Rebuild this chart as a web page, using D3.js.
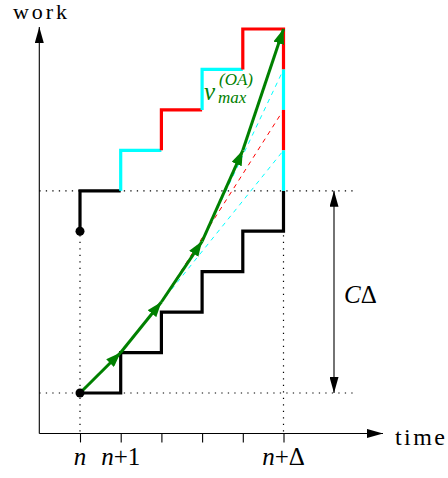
<!DOCTYPE html>
<html><head><meta charset="utf-8">
<script src="https://cdn.jsdelivr.net/npm/d3@7"></script>
<style>body{margin:0;background:#fff}svg{display:block}</style>
</head><body>
<svg id="c" width="448" height="478"></svg>
<script>
// ---- data ----
const timeTicks = [0, 1, 2, 3, 4, 5];
const tickLabelAt = [0, 1, 5];
const tickLabelRest = ["", "+1", "+\u0394"];
const lowerX = [0, 1, 1, 2, 2, 3, 3, 4, 4, 5, 5];
const lowerY = [0, 0, 1, 1, 2, 2, 3, 3, 4, 4, 5];
const upperX = [0, 0, 1];
const upperY = [4, 5, 5];
const segColors = ["#00ffff", "#ff0000", "#00ffff", "#ff0000", "#00ffff", "#ff0000", "#00ffff"];
const segX = [[1, 1, 2], [2, 2, 3], [3, 3, 4], [4, 4, 5, 5], [5, 5], [5, 5], [5, 5]];
const segY = [[5, 6, 6], [6, 7, 7], [7, 8, 8], [8, 9, 9, 8], [8, 7], [7, 6], [6, 5]];
const greenX = [0, 1, 2, 3, 4, 5];
const greenY = [0, 1, 2.25, 3.75, 6, 9];
const dashFromX = [2, 1, 3], dashFromY = [2.25, 1, 3.75];
const dashToX = [5, 5, 5], dashToY = [7, 6, 8];
const dashColors = ["#ff0000", "#00ffff", "#00ffff"];
const pointX = [0, 0], pointY = [0, 4];
const levelLow = 0, levelHigh = 5;

// ---- drawing ----
const svg = d3.select("#c");
const x = d3.scaleLinear().domain([0, 5]).range([80, 283.5]);
const y = d3.scaleLinear().domain([0, 9]).range([393, 29]);
const zip = (a, b) => a.map((v, i) => [v, b[i]]);
const line = d3.line().x(d => x(d[0])).y(d => y(d[1]));
const serif = "Liberation Serif, Times New Roman, serif";

const defs = svg.append("defs");
function marker(id, color, len, half) {
  defs.append("marker").attr("id", id).attr("viewBox", `${-len} ${-half} ${len} ${2 * half}`)
    .attr("refX", 0).attr("refY", 0).attr("markerUnits", "userSpaceOnUse")
    .attr("markerWidth", len).attr("markerHeight", 2 * half).attr("orient", "auto-start-reverse")
    .append("path").attr("d", `M${-len},${-half} L0,0 L${-len},${half} Z`).attr("fill", color);
}
marker("ax", "#000", 16, 4.5);
marker("gr", "#008000", 15, 5.5);

const axY = y(-1), axX = x(-1);
// dotted guides
const dotted = svg.append("g").attr("stroke", "#000").attr("stroke-width", 1.2)
  .attr("stroke-dasharray", "1.3,5.2").attr("fill", "none");
[levelLow, levelHigh].forEach(l => dotted.append("line")
  .attr("x1", axX).attr("x2", x(6.75)).attr("y1", y(l)).attr("y2", y(l)));
[0, 5].forEach(t => dotted.append("line")
  .attr("x1", x(t)).attr("x2", x(t)).attr("y1", y(4) + 4).attr("y2", axY));

// axes
svg.append("line").attr("x1", axX).attr("y1", axY).attr("x2", 383).attr("y2", axY)
  .attr("stroke", "#000").attr("stroke-width", 1.1).attr("marker-end", "url(#ax)");
svg.append("line").attr("x1", axX).attr("y1", axY).attr("x2", axX).attr("y2", 27)
  .attr("stroke", "#000").attr("stroke-width", 1.1).attr("marker-end", "url(#ax)");
const xAxis = d3.axisBottom(x).tickValues(timeTicks).tickSize(9).tickFormat("");
const gx = svg.append("g").attr("transform", `translate(0,${axY})`).call(xAxis);
gx.select(".domain").remove();
gx.selectAll(".tick line").attr("stroke", "#000").attr("stroke-width", 1.1);

// tick labels
tickLabelAt.forEach((t, i) => {
  const tx = svg.append("text").attr("x", x(t)).attr("y", 465).attr("text-anchor", "middle")
    .attr("font-family", serif).attr("font-size", 25).attr("fill", "#000");
  tx.append("tspan").attr("font-style", "italic").text("n");
  if (tickLabelRest[i]) tx.append("tspan").text(tickLabelRest[i]);
});

// dashed lines
dashColors.forEach((c, i) => svg.append("line")
  .attr("x1", x(dashFromX[i])).attr("y1", y(dashFromY[i]))
  .attr("x2", x(dashToX[i])).attr("y2", y(dashToY[i]))
  .attr("stroke", c).attr("stroke-width", 1).attr("stroke-dasharray", "4.5,4.5"));

// staircases
svg.append("path").attr("d", line(zip(lowerX, lowerY))).attr("fill", "none")
  .attr("stroke", "#000").attr("stroke-width", 3.2);
svg.append("path").attr("d", line(zip(upperX, upperY))).attr("fill", "none")
  .attr("stroke", "#000").attr("stroke-width", 3.2);
segColors.forEach((c, i) => svg.append("path").attr("d", line(zip(segX[i], segY[i])))
  .attr("fill", "none").attr("stroke", c).attr("stroke-width", 3.2));

// green path with arrowheads
const gpts = zip(greenX, greenY);
for (let i = 1; i < gpts.length; i++) {
  svg.append("line").attr("x1", x(gpts[i - 1][0])).attr("y1", y(gpts[i - 1][1]))
    .attr("x2", x(gpts[i][0])).attr("y2", y(gpts[i][1]))
    .attr("stroke", "#008000").attr("stroke-width", 3).attr("marker-end", "url(#gr)");
}

// points
pointX.forEach((px, i) => svg.append("circle").attr("cx", x(px)).attr("cy", y(pointY[i]))
  .attr("r", 4.5).attr("fill", "#000"));

// C Delta double arrow
svg.append("line").attr("x1", 334).attr("x2", 334).attr("y1", y(levelHigh)).attr("y2", y(levelLow))
  .attr("stroke", "#000").attr("stroke-width", 1.1)
  .attr("marker-start", "url(#ax)").attr("marker-end", "url(#ax)");
const cd = svg.append("text").attr("x", 344).attr("y", 303).attr("font-family", serif)
  .attr("font-size", 25).attr("fill", "#000");
cd.append("tspan").attr("font-style", "italic").text("C");
cd.append("tspan").text("\u0394");

// axis titles
svg.append("text").attr("x", 13).attr("y", 19).attr("font-family", serif).attr("font-size", 22)
  .attr("textLength", 54).text("work");
svg.append("text").attr("x", 395).attr("y", 445).attr("font-family", serif).attr("font-size", 24)
  .attr("textLength", 50).text("time");

// v_max^(OA) as a single text element
const vl = svg.append("text").attr("fill", "#008000").attr("font-family", serif)
  .attr("font-style", "italic").attr("x", 204).attr("y", 100).attr("font-size", 25);
vl.append("tspan").text("v");
vl.append("tspan").attr("x", 218).attr("y", 103).attr("font-size", 17).text("max");
vl.append("tspan").attr("x", 219).attr("y", 85).attr("font-size", 17).text("(OA)");
</script>
</body></html>
